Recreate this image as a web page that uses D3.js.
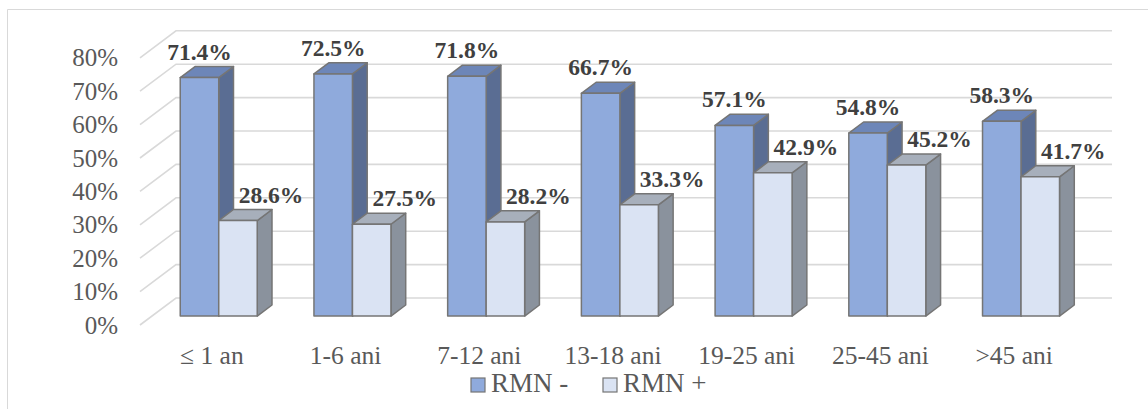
<!DOCTYPE html>
<html>
<head>
<meta charset="utf-8">
<script src="https://cdn.jsdelivr.net/npm/d3@7"></script>
<style>
  html, body { margin: 0; padding: 0; background: #fff; }
  svg { display: block; }
</style>
</head>
<body>
<svg id="chart" width="1148" height="409"></svg>
<script>
// Age groups and share of each MRI result per group
const categories = ["\u2264 1 an", "1-6 ani", "7-12 ani", "13-18 ani", "19-25 ani", "25-45 ani", ">45 ani"];
const rmnNeg = [71.4, 72.5, 71.8, 66.7, 57.1, 54.8, 58.3];
const rmnPos = [28.6, 27.5, 28.2, 33.3, 42.9, 45.2, 41.7];
const seriesNames = ["RMN -", "RMN +"];
const yTicks = [0, 10, 20, 30, 40, 50, 60, 70, 80];

const FONT = '"Liberation Serif", "Times New Roman", serif';
const svg = d3.select("#chart");
const W = 1148, H = 409;

// Oblique projection: depth z in [0,1] shifts right and up
const DEPTH_X = 36, DEPTH_Y = 27;
const x = d3.scaleBand().domain(categories).range([140, 1076]).padding(0);
const y = d3.scaleLinear().domain([0, 80]).range([325, 325 - 80 * 3.34]);
const proj = (px, v, z) => [px + z * DEPTH_X, y(v) - z * DEPTH_Y];

const Z0 = 0.33, Z1 = 0.74;   // bar depth span
const barW = 38.5;

const styles = [
  { front: "#8faadc", top: "#6d86b8", side: "#5a6d93" },
  { front: "#dae3f3", top: "#a7afbb", side: "#8a929d" }
];
const edge = "#757575";
const gridColor = "#d9d9d9";

// chart frame
svg.append("path")
  .attr("d", `M7.5,${H} L7.5,9.5 L${W},9.5`)
  .attr("fill", "none").attr("stroke", gridColor).attr("stroke-width", 1);

// gridlines: left wall slants + back wall lines
const x0 = x.range()[0], x1 = x.range()[1];
const grid = svg.append("g");
yTicks.forEach(t => {
  const a = proj(x0, t, 0), b = proj(x0, t, 1), c = proj(x1, t, 1);
  grid.append("path")
    .attr("d", `M${a[0]},${a[1]} L${b[0]},${b[1]} L${c[0]},${c[1]}`)
    .attr("fill", "none").attr("stroke", gridColor).attr("stroke-width", 1.6);
});

// y axis labels on the front plane
svg.append("g").selectAll("text").data(yTicks).join("text")
  .attr("x", 118).attr("y", d => y(d) + 8.5)
  .attr("text-anchor", "end")
  .style("font-family", FONT).style("font-size", "25px")
  .attr("fill", "#595959")
  .text(d => d + "%");

// 3D bars
const poly = pts => "M" + pts.map(p => p.join(",")).join("L") + "Z";
function drawBar(g, left, v, st) {
  const right = left + barW;
  const side = [proj(right, 0, Z0), proj(right, 0, Z1), proj(right, v, Z1), proj(right, v, Z0)];
  const top = [proj(left, v, Z0), proj(left, v, Z1), proj(right, v, Z1), proj(right, v, Z0)];
  const front = [proj(left, 0, Z0), proj(left, v, Z0), proj(right, v, Z0), proj(right, 0, Z0)];
  [[side, st.side], [top, st.top], [front, st.front]].forEach(([pts, fill]) => {
    g.append("path").attr("d", poly(pts))
      .attr("fill", fill).attr("stroke", edge).attr("stroke-width", 1.5)
      .attr("stroke-linejoin", "round");
  });
}

const bars = svg.append("g");
const labels = svg.append("g");

categories.forEach((c, i) => {
  const center = x(c) + x.bandwidth() / 2;
  const vals = [rmnNeg[i], rmnPos[i]];
  vals.forEach((v, s) => {
    const left = center - barW + s * barW;
    drawBar(bars, left, v, styles[s]);
    const ft = proj(left + barW / 2, v, Z0);
    labels.append("text")
      .attr("x", ft[0] + (s === 1 ? 33 : 0))
      .attr("y", ft[1] - 18)
      .attr("text-anchor", "middle")
      .style("font-family", FONT).style("font-size", "23.5px").style("font-weight", "bold")
      .attr("fill", "#404040")
      .text(v.toFixed(1) + "%");
  });
});

// category labels
svg.append("g").selectAll("text").data(categories).join("text")
  .attr("x", d => x(d) + x.bandwidth() / 2 + 5)
  .attr("y", 364)
  .attr("text-anchor", "middle")
  .style("font-family", FONT).style("font-size", "25.5px")
  .attr("fill", "#595959")
  .text(d => d);

// legend
const legend = svg.append("g");
const legendX = [471, 603];
seriesNames.forEach((n, s) => {
  legend.append("rect")
    .attr("x", legendX[s]).attr("y", 378).attr("width", 14).attr("height", 14)
    .attr("fill", styles[s].front).attr("stroke", edge).attr("stroke-width", 1.2);
  legend.append("text")
    .attr("x", legendX[s] + 20).attr("y", 392)
    .style("font-family", FONT).style("font-size", "27px")
    .attr("fill", "#595959")
    .text(n);
});
</script>
</body>
</html>
